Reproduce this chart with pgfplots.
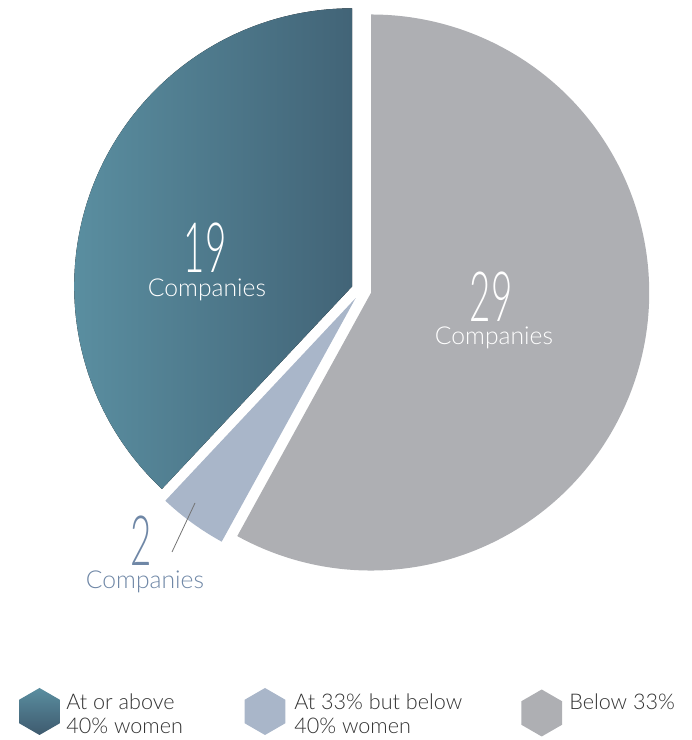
\documentclass[border=0pt]{standalone}
\usepackage{pgfplots}
\pgfplotsset{compat=1.18}
\usepackage{pgfplotstable}
\usepackage{graphicx}
\usepackage{fontspec}
\setmainfont{Lato Light}
\usetikzlibrary{shapes.geometric}

\definecolor{tealL}{HTML}{5A8EA0}
\definecolor{tealR}{HTML}{426477}
\definecolor{tealD}{HTML}{3E5A6E}
\definecolor{slate}{HTML}{A9B6C9}
\definecolor{greyS}{HTML}{AEAFB3}
\definecolor{lab2}{HTML}{6F87A6}
\definecolor{legtxt}{HTML}{333333}

\pgfplotstableread{
group value
above40 19
between 2
below33 29
}\piedata
\pgfplotstablegetelem{0}{value}\of\piedata\edef\vA{\pgfplotsretval}
\pgfplotstablegetelem{1}{value}\of\piedata\edef\vB{\pgfplotsretval}
\pgfplotstablegetelem{2}{value}\of\piedata\edef\vC{\pgfplotsretval}
\pgfmathsetmacro\tot{\vA+\vB+\vC}
\pgfmathsetmacro\aS{90}
\pgfmathsetmacro\aAB{90+360*\vA/\tot}
\pgfmathsetmacro\aBC{\aAB+360*\vB/\tot}
\pgfmathsetmacro\aE{450}
\pgfmathsetmacro\bA{(\aS+\aAB)/2}
\pgfmathsetmacro\bB{(\aAB+\aBC)/2}
\pgfmathsetmacro\bC{(\aBC+\aE)/2}

\newcommand\bignum[1]{\scalebox{0.53}[1]{\fontsize{52}{52}\selectfont #1}}
\newcommand\comp{\fontsize{18.5}{20}\selectfont Companies}
\newcommand\legf{\fontsize{16.2}{16.2}\selectfont}
\tikzset{hexa/.style={regular polygon, regular polygon sides=6, shape border rotate=30,
  minimum size=35.25pt, inner sep=0, draw=none}}

\begin{document}
\begin{tikzpicture}
\begin{axis}[
  x=0.75pt, y=0.75pt,
  xmin=0, xmax=692, ymin=0, ymax=740,
  hide axis, clip=false,
]
\path (axis cs:0,0) rectangle (axis cs:692,740);
% slices
\fill[left color=tealL, right color=tealR, shift={(\bA:7.5pt)}]
  (axis cs:361.5,450) -- ++(\aS:208.5pt) arc[start angle=\aS, end angle=\aAB, radius=208.5pt] -- cycle;
\fill[slate, shift={(\bB:7.5pt)}]
  (axis cs:361.5,450) -- ++(\aAB:208.5pt) arc[start angle=\aAB, end angle=\aBC, radius=208.5pt] -- cycle;
\fill[greyS, shift={(\bC:7.5pt)}]
  (axis cs:361.5,450) -- ++(\aBC:208.5pt) arc[start angle=\aBC, end angle=\aE, radius=208.5pt] -- cycle;

% labels
\node[anchor=base, text=white, inner sep=0] at (axis cs:205,467) {\bignum{\vA}};
\node[anchor=base, text=white, inner sep=0] at (axis cs:207,443) {\comp};
\node[anchor=base, text=white, inner sep=0] at (axis cs:491,418) {\bignum{\vC}};
\node[anchor=base, text=white, inner sep=0] at (axis cs:494,395) {\comp};
\node[anchor=base, text=lab2, inner sep=0] at (axis cs:141,174) {\bignum{\vB}};
\node[anchor=base, text=lab2, inner sep=0] at (axis cs:145,151) {\comp};
\draw[black!55, line width=0.6pt] (axis cs:195,237) -- (axis cs:172,188);

% legend
\node[hexa, top color=tealL, bottom color=tealD] at (axis cs:39.5,28.5) {};
\node[hexa, fill=slate] at (axis cs:265,28.5) {};
\node[hexa, fill=greyS] at (axis cs:541.7,27) {};
\node[anchor=base west, inner sep=0, text=legtxt] at (axis cs:66,31) {\legf At or above};
\node[anchor=base west, inner sep=0, text=legtxt] at (axis cs:66,7) {\legf 40\% women};
\node[anchor=base west, inner sep=0, text=legtxt] at (axis cs:294,31) {\legf At 33\% but below};
\node[anchor=base west, inner sep=0, text=legtxt] at (axis cs:294,7) {\legf 40\% women};
\node[anchor=base west, inner sep=0, text=legtxt] at (axis cs:569,31) {\legf Below 33\%};
\end{axis}
\end{tikzpicture}
\end{document}
